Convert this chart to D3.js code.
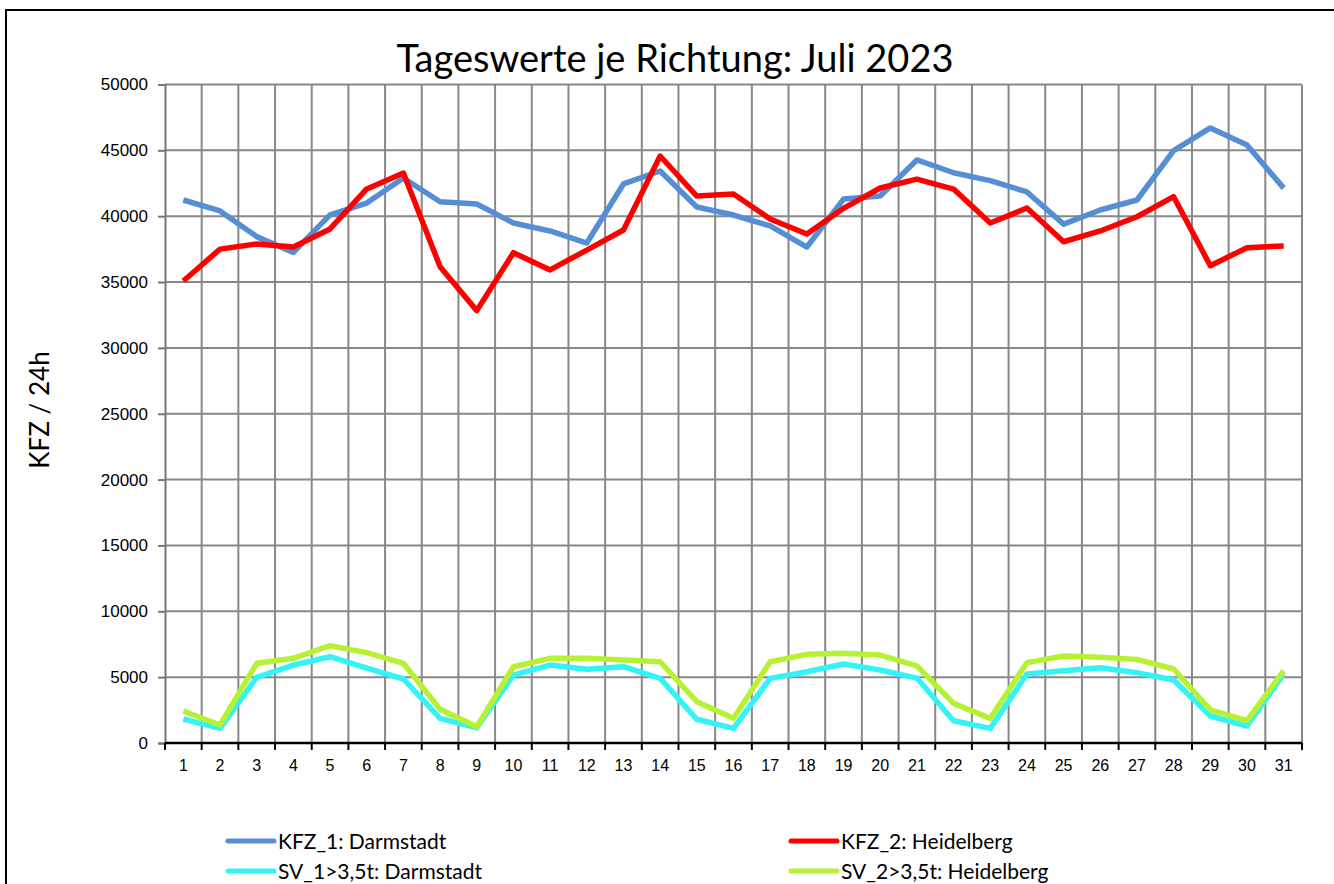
<!DOCTYPE html>
<html>
<head>
<meta charset="utf-8">
<script src="https://cdn.jsdelivr.net/npm/d3@7"></script>
<style>
  body { margin: 0; background: #fff; }
  svg { display: block; font-family: Lato, 'Noto Sans', sans-serif; }
</style>
</head>
<body>
<div id="chart"></div>
<script>
const days = d3.range(1, 32)
const kfz1 = [41230, 40400, 38450, 37250, 40100, 41000, 42900, 41100, 40930, 39480, 38880, 37960, 42450, 43430, 40700, 40090, 39260, 37660, 41300, 41530, 44270, 43300, 42700, 41840, 39400, 40470, 41230, 44980, 46700, 45400, 42130]
const kfz2 = [35080, 37500, 37890, 37660, 39030, 42070, 43280, 36170, 32830, 37230, 35920, 37430, 38950, 44570, 41530, 41690, 39790, 38650, 40600, 42140, 42820, 42060, 39480, 40620, 38060, 38880, 39960, 41480, 36240, 37610, 37740]
const sv1 = [1820, 1110, 4990, 5920, 6550, 5690, 4860, 1870, 1160, 5160, 5920, 5600, 5790, 4910, 1800, 1110, 4910, 5410, 6000, 5540, 4930, 1690, 1110, 5240, 5490, 5720, 5340, 4780, 2050, 1290, 5240]
const sv2 = [2430, 1370, 6050, 6430, 7390, 6860, 6050, 2560, 1240, 5790, 6430, 6430, 6300, 6170, 3140, 1870, 6170, 6730, 6810, 6680, 5850, 3010, 1870, 6100, 6610, 6510, 6350, 5620, 2510, 1690, 5490]
const yTicks = d3.range(0, 50001, 5000)

const series = [
  { name: 'KFZ_1: Darmstadt', values: kfz1, color: '#558ed5' },
  { name: 'KFZ_2: Heidelberg', values: kfz2, color: '#ff0000' },
  { name: 'SV_1>3,5t: Darmstadt', values: sv1, color: '#33f3f7' },
  { name: 'SV_2>3,5t: Heidelberg', values: sv2, color: '#b6f233' }
]

const width = 1334
const height = 884
const plot = { left: 165, right: 1302, top: 84.5, bottom: 743 }

const svg = d3.select('#chart').append('svg')
  .attr('width', width)
  .attr('height', height)

// chart frame
svg.append('rect')
  .attr('x', 6).attr('y', 10)
  .attr('width', 1340).attr('height', 900)
  .attr('fill', 'none')
  .attr('stroke', '#000')
  .attr('stroke-width', 2)

const x = d3.scaleBand().domain(days).range([plot.left, plot.right])
const xEdge = d3.scaleLinear().domain([0, days.length]).range([plot.left, plot.right])
const y = d3.scaleLinear().domain([0, 50000]).range([plot.bottom, plot.top])

const grid = svg.append('g').attr('stroke', '#888').attr('stroke-width', 2)

grid.selectAll('line.h')
  .data(yTicks.slice(1))
  .join('line')
  .attr('class', 'h')
  .attr('x1', plot.left).attr('x2', plot.right)
  .attr('y1', d => y(d)).attr('y2', d => y(d))

grid.selectAll('line.v')
  .data(d3.range(1, days.length + 1))
  .join('line')
  .attr('class', 'v')
  .attr('x1', d => xEdge(d)).attr('x2', d => xEdge(d))
  .attr('y1', plot.top).attr('y2', plot.bottom)

// y axis
const yAxis = svg.append('g')
  .attr('transform', `translate(${plot.left},0)`)
  .call(d3.axisLeft(y).tickValues(yTicks).tickSize(7).tickPadding(10).tickFormat(d => d))
yAxis.select('.domain').attr('stroke', '#777').attr('stroke-width', 2)
yAxis.selectAll('.tick line').attr('stroke', '#777').attr('stroke-width', 2)
yAxis.selectAll('.tick text').attr('font-size', 17).attr('fill', '#000')

// x axis: labels in the band middle, ticks on the boundaries
const xAxis = svg.append('g')
  .attr('transform', `translate(0,${plot.bottom})`)
  .call(d3.axisBottom(x).tickSize(0).tickPadding(17))
xAxis.select('.domain').remove()
xAxis.selectAll('.tick text').attr('font-size', 16).attr('fill', '#000')

xAxis.selectAll('line.edge')
  .data(d3.range(0, days.length + 1))
  .join('line')
  .attr('class', 'edge')
  .attr('x1', d => xEdge(d)).attr('x2', d => xEdge(d))
  .attr('y1', 0).attr('y2', 7)
  .attr('stroke', '#000').attr('stroke-width', 2)

xAxis.append('line')
  .attr('x1', plot.left).attr('x2', plot.right)
  .attr('y1', 0).attr('y2', 0)
  .attr('stroke', '#000').attr('stroke-width', 2.5)

// lines
const line = d3.line()
  .x((d, i) => x(days[i]) + x.bandwidth() / 2)
  .y(d => y(d))

svg.append('g')
  .selectAll('path')
  .data(series)
  .join('path')
  .attr('d', d => line(d.values))
  .attr('fill', 'none')
  .attr('stroke', d => d.color)
  .attr('stroke-width', 5.5)
  .attr('stroke-linejoin', 'round')

// title
svg.append('text')
  .attr('x', 675).attr('y', 72)
  .attr('text-anchor', 'middle')
  .attr('font-size', 38)
  .text('Tageswerte je Richtung: Juli 2023')

// y title
svg.append('text')
  .attr('transform', 'translate(49,410) rotate(-90)')
  .attr('text-anchor', 'middle')
  .attr('font-size', 26)
  .text('KFZ / 24h')

// legend
const legendPos = [[228, 841], [791, 841], [228, 871], [791, 871]]
const legend = svg.append('g')
  .selectAll('g')
  .data(series)
  .join('g')
  .attr('transform', (d, i) => `translate(${legendPos[i]})`)

legend.append('line')
  .attr('x1', 0).attr('x2', 46)
  .attr('stroke', d => d.color)
  .attr('stroke-width', 5)
  .attr('stroke-linecap', 'round')

legend.append('text')
  .attr('x', 50).attr('y', 8)
  .attr('font-size', 21)
  .text(d => d.name)
</script>
</body>
</html>
